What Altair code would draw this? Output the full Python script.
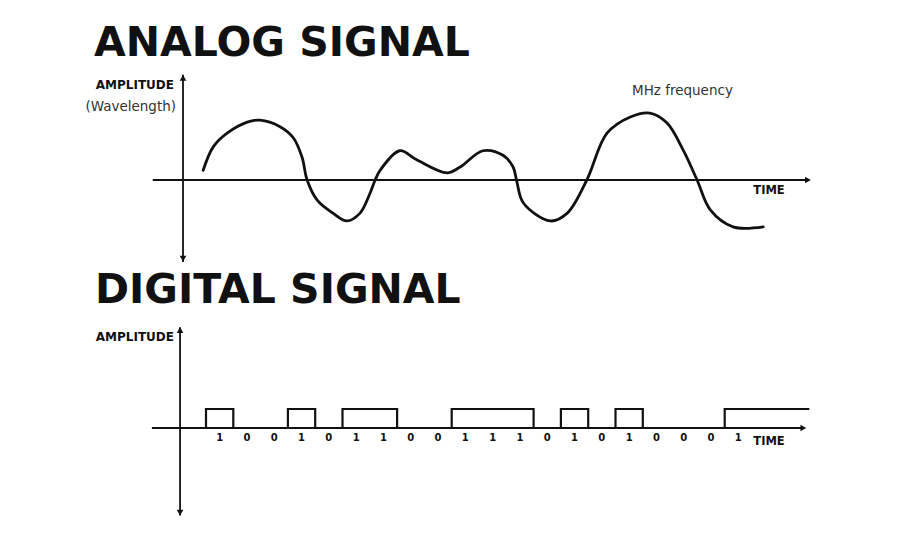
import altair as alt
import pandas as pd

# ---------------- data ----------------
# analog waveform (time units, amplitude units)
analog_t = [3.2, 4.8, 7.0, 10.2, 12.2, 15.4, 17.5, 18.9, 19.7, 21.3, 23.8, 26.0, 28.1, 29.7,
            30.5, 31.3, 34.4, 37.1, 41.9, 44.0, 47.6, 50.8, 52.4, 53.0, 54.0, 58.3, 61.0,
            64.1, 67.3, 71.0, 74.1, 76.8, 79.4, 81.6, 83.7, 87.3, 92.1]
analog_a = [0.15, 0.51, 0.72, 0.89, 0.92, 0.82, 0.65, 0.35, 0.0, -0.31, -0.51, -0.63, -0.51,
            -0.2, 0.0, 0.15, 0.45, 0.31, 0.11, 0.2, 0.45, 0.38, 0.2, -0.03, -0.35, -0.63,
            -0.51, 0.0, 0.72, 0.97, 1.03, 0.88, 0.46, 0.0, -0.46, -0.72, -0.72]

# digital bit stream
bits = [1, 0, 0, 1, 0, 1, 1, 0, 0, 1, 1, 1, 0, 1, 0, 1, 0, 0, 0, 1]
bit_start = -1.98   # where the trace starts (bit units)
bit_end = 22.1      # where the trace ends

# axis extents (data units)
an_x_axis = [-4.8, 99.8]
an_y_axis = [-1.26, 1.62]
dg_x_axis = [-1.98, 22.0]
dg_y_axis = [-4.6, 5.3]
dg_y_pos = -0.95

# ---------------- scales ----------------
W, H = 917, 542
ax_sc = alt.Scale(domain=[-183 / 6.3, (W - 183) / 6.3], nice=False, zero=False)
ay_sc = alt.Scale(domain=[(180 - H) / 65, 180 / 65], nice=False, zero=False)
dx_sc = alt.Scale(domain=[-206 / 27.3, (W - 206) / 27.3], nice=False, zero=False)
dy_sc = alt.Scale(domain=[(428 - H) / 19, 428 / 19], nice=False, zero=False)

INK = "#111111"

def X(field, sc):
    return alt.X(field, type="quantitative", scale=sc, axis=None)

def Y(field, sc):
    return alt.Y(field, type="quantitative", scale=sc, axis=None)

# ---------------- analog panel ----------------
analog_df = pd.DataFrame({"t": analog_t, "a": analog_a})
wave = alt.Chart(analog_df).mark_line(interpolate="catmull-rom", color=INK, strokeWidth=2.8,
                                      strokeCap="round", strokeJoin="round").encode(
    x=X("t", ax_sc), y=Y("a", ay_sc))

an_h = alt.Chart(pd.DataFrame({"t": [an_x_axis[0]], "t2": [an_x_axis[1] - 0.5], "a": [0]})).mark_rule(
    color=INK, strokeWidth=1.8).encode(x=X("t", ax_sc), x2="t2", y=Y("a", ay_sc))
an_v = alt.Chart(pd.DataFrame({"t": [0], "a": [an_y_axis[0]], "a2": [an_y_axis[1]]})).mark_rule(
    color=INK, strokeWidth=1.8).encode(x=X("t", ax_sc), y=Y("a", ay_sc), y2="a2")
an_arrows = alt.Chart(pd.DataFrame({
    "t": [an_x_axis[1] - 0.6, 0, 0],
    "a": [0, an_y_axis[1] - 0.05, an_y_axis[0] + 0.05],
    "shape": ["triangle-right", "triangle-up", "triangle-down"]})).mark_point(
    filled=True, color=INK, opacity=1, size=45).encode(
    x=X("t", ax_sc), y=Y("a", ay_sc), shape=alt.Shape("shape:N", scale=None, legend=None))

analog = alt.layer(an_h, an_v, an_arrows, wave)

# ---------------- digital panel ----------------
steps_b = [bit_start] + list(range(len(bits))) + [bit_end]
steps_v = [0] + bits + [bits[-1]]
dig_df = pd.DataFrame({"b": steps_b, "v": steps_v})
trace = alt.Chart(dig_df).mark_line(interpolate="step-after", color=INK, strokeWidth=2.2).encode(
    x=X("b", dx_sc), y=Y("v", dy_sc))

dg_h = alt.Chart(pd.DataFrame({"b": [dg_x_axis[0]], "b2": [dg_x_axis[1] - 0.1], "v": [0]})).mark_rule(
    color=INK, strokeWidth=1.8).encode(x=X("b", dx_sc), x2="b2", y=Y("v", dy_sc))
dg_v = alt.Chart(pd.DataFrame({"b": [dg_y_pos], "v": [dg_y_axis[0]], "v2": [dg_y_axis[1]]})).mark_rule(
    color=INK, strokeWidth=1.8).encode(x=X("b", dx_sc), y=Y("v", dy_sc), y2="v2")
dg_arrows = alt.Chart(pd.DataFrame({
    "b": [dg_x_axis[1] - 0.12, dg_y_pos, dg_y_pos],
    "v": [0, dg_y_axis[1] - 0.15, dg_y_axis[0] + 0.15],
    "shape": ["triangle-right", "triangle-up", "triangle-down"]})).mark_point(
    filled=True, color=INK, opacity=1, size=45).encode(
    x=X("b", dx_sc), y=Y("v", dy_sc), shape=alt.Shape("shape:N", scale=None, legend=None))

lab_df = pd.DataFrame({"b": [i + 0.5 for i in range(len(bits))], "v": [-0.55] * len(bits),
                       "bit": [str(x) for x in bits]})
bit_labels = alt.Chart(lab_df).mark_text(fontSize=10, fontWeight="bold", font="DejaVu Sans",
                                         color=INK, baseline="middle").encode(
    x=X("b", dx_sc), y=Y("v", dy_sc), text="bit:N")

digital = alt.layer(dg_h, dg_v, dg_arrows, trace, bit_labels)

# ---------------- text ----------------
def txt(s, x, y, size, weight="normal", align="left", baseline="middle", color=INK, font="DejaVu Sans"):
    return alt.Chart(pd.DataFrame({"s": [s]})).mark_text(
        fontSize=size, fontWeight=weight, align=align, baseline=baseline, color=color, font=font
    ).encode(x=alt.value(x), y=alt.value(y), text="s:N")

texts = alt.layer(
    txt("ANALOG SIGNAL", 94, 56, 41, weight="bold", baseline="alphabetic"),
    txt("DIGITAL SIGNAL", 95, 303, 41, weight="bold", baseline="alphabetic"),
    txt("AMPLITUDE", 174, 85, 12, weight="bold", align="right"),
    txt("(Wavelength)", 176, 107, 13.5, align="right", color="#333333"),
    txt("MHz frequency", 632, 91, 13.5, color="#333333"),
    txt("TIME", 769, 191, 11.5, weight="bold", align="center"),
    txt("AMPLITUDE", 174, 337, 12, weight="bold", align="right"),
    txt("TIME", 769, 442, 11.5, weight="bold", align="center"),
)

chart = alt.layer(analog, digital, texts).resolve_scale(
    x="independent", y="independent", shape="independent"
).properties(
    width=W, height=H, autosize=alt.AutoSizeParams(type="none"), padding=0, background="white"
).configure_view(stroke=None)

chart.save("out.html", embed_options={"renderer": "svg", "actions": False})
